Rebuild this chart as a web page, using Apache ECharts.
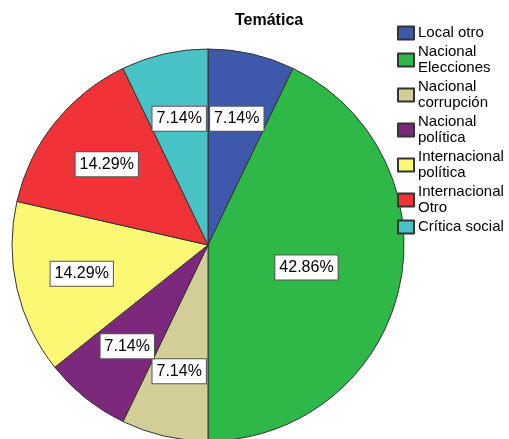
<!DOCTYPE html>
<html>
<head>
<meta charset="utf-8">
<script src="https://cdn.jsdelivr.net/npm/echarts@6/dist/echarts.min.js"></script>
<style>html,body{margin:0;padding:0;background:#fff}#c{width:509px;height:439px}</style>
</head>
<body>
<div id="c"></div>
<script>
const categories = ["Local otro", "Nacional\nElecciones", "Nacional\ncorrupción", "Nacional\npolítica", "Internacional\npolítica", "Internacional\nOtro", "Crítica social"];
const percents = [7.14, 42.86, 7.14, 7.14, 14.29, 14.29, 7.14];
const colors = ["#3E58AC", "#2EB848", "#D3CE97", "#7C287D", "#FBF873", "#EF3338", "#48C2C5"];
const title = "Temática";

const FONT = "Liberation Sans, Arial, sans-serif";
const labelBox = {
  color: "#000", fontSize: 16, lineHeight: 18, fontFamily: FONT,
  backgroundColor: "#fff", borderColor: "#555", borderWidth: 1,
  padding: [3, 4, 3, 4]
};
const bigShare = 25;

const chart = echarts.init(document.getElementById("c"));
chart.setOption({
  animation: false,
  color: colors,
  title: {
    text: title, left: 230, top: 8,
    textStyle: { fontSize: 16, fontWeight: "bold", color: "#000", fontFamily: FONT }
  },
  legend: {
    orient: "vertical", left: 392, top: 20,
    itemWidth: 16, itemHeight: 13, itemGap: 3,
    icon: "rect",
    textStyle: { fontSize: 15, lineHeight: 16, color: "#000", fontFamily: FONT, padding: [0, 0, 0, -1] },
    data: categories
  },
  series: [
    {
      type: "pie", center: [208, 245], radius: 196, startAngle: 90,
      clockwise: true, silent: true, avoidLabelOverlap: false,
      itemStyle: { borderColor: "#333", borderWidth: 1 },
      data: categories.map((n, i) => ({
        name: n, value: percents[i],
        label: { show: percents[i] > bigShare }
      })),
      label: Object.assign({ position: "inside", formatter: p => p.value.toFixed(2) + "%" }, labelBox),
      labelLine: { show: false },
      labelLayout: { hideOverlap: false }
    },
    {
      type: "pie", center: [208, 245], radius: 253, startAngle: 90,
      clockwise: true, silent: true, avoidLabelOverlap: false,
      itemStyle: { color: "rgba(0,0,0,0)", borderWidth: 0 },
      legendHoverLink: false,
      data: categories.map((n, i) => ({
        name: n + " ", value: percents[i],
        label: { show: percents[i] <= bigShare }
      })),
      label: Object.assign({ position: "inside", formatter: p => p.value.toFixed(2) + "%" }, labelBox),
      labelLine: { show: false },
      labelLayout: { hideOverlap: false }
    }
  ]
});
</script>
</body>
</html>
